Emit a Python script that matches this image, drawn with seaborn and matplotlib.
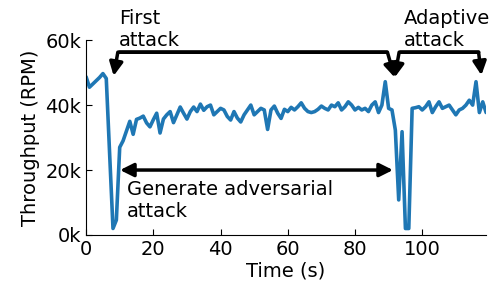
import numpy as np
import pandas as pd
import seaborn as sns
import matplotlib.pyplot as plt
from matplotlib.ticker import FuncFormatter

# throughput (k RPM), one sample per second
time_s = list(range(120))
throughput_k = [
    48.7, 45.5, 46.5, 47.5, 48.5, 49.7, 48.2, 25.0, 2.0, 4.6,
    27.0, 29.0, 32.0, 35.0, 31.0, 35.6, 36.0, 36.6, 34.5, 33.3,
    35.5, 37.5, 31.4, 35.7, 37.0, 38.0, 34.6, 37.0, 39.4, 37.5,
    35.7, 38.0, 39.4, 38.0, 40.3, 38.4, 39.5, 40.0, 37.0, 38.0,
    39.0, 38.5, 36.5, 35.4, 38.0, 36.0, 34.8, 37.0, 38.5, 40.0,
    37.0, 38.0, 39.0, 38.5, 32.5, 38.5, 39.7, 37.5, 35.9, 38.7,
    38.0, 39.3, 38.5, 39.5, 40.7, 39.0, 38.0, 37.7, 38.0, 38.7,
    39.7, 39.0, 38.5, 40.0, 39.5, 40.7, 38.5, 39.5, 41.0, 40.0,
    38.5, 39.3, 38.5, 39.0, 38.0, 40.0, 41.0, 37.7, 40.0, 47.2,
    39.0, 38.5, 32.3, 10.8, 31.8, 2.0, 2.0, 39.0, 39.2, 39.5,
    38.5, 39.5, 41.0, 37.7, 39.5, 41.0, 39.0, 39.5, 40.0, 38.5,
    37.0, 38.5, 39.0, 40.0, 41.5, 40.0, 47.2, 37.7, 41.0, 37.7,
]
yticks = [0, 20000, 40000, 60000]

df = pd.DataFrame({"time": time_s, "rpm": np.array(throughput_k) * 1000})

sns.set_style("ticks")
plt.rcParams["font.family"] = ["DejaVu Sans"]
plt.rcParams["font.size"] = 14
for key in ["text.color", "axes.labelcolor", "xtick.color", "ytick.color", "axes.edgecolor"]:
    plt.rcParams[key] = "black"

fig, ax = plt.subplots(figsize=(4.92, 2.93), dpi=100)
fig.subplots_adjust(left=0.175, right=0.988, bottom=0.198, top=0.863)

sns.lineplot(data=df, x="time", y="rpm", ax=ax, color="#1f77b4", lw=2.6)

ax.set_xlim(0, 119)
ax.set_ylim(0, 60000)
ax.set_yticks(yticks)
ax.yaxis.set_major_formatter(FuncFormatter(lambda v, p: "%dk" % (v / 1000)))
ax.tick_params(direction="in", length=4, labelsize=14)
ax.set_xlabel("Time (s)", fontsize=14, labelpad=2)
ax.set_ylabel("Throughput (RPM)", fontsize=14)
sns.despine(ax=ax)

kw = dict(arrowstyle="-|>", color="k", lw=2.5, mutation_scale=20,
          shrinkA=0, shrinkB=0)
# first attack bracket
ax.annotate("", xy=(8.2, 49000), xytext=(89.5, 56300), annotation_clip=False,
            arrowprops=dict(connectionstyle="angle,angleA=0,angleB=80,rad=0", **kw))
ax.annotate("", xy=(91.8, 48500), xytext=(9.9, 56300), annotation_clip=False,
            arrowprops=dict(connectionstyle="angle,angleA=0,angleB=106,rad=0", **kw))
# adaptive attack bracket
ax.annotate("", xy=(91.8, 48500), xytext=(116.8, 56300), annotation_clip=False,
            arrowprops=dict(connectionstyle="angle,angleA=0,angleB=80,rad=0", **kw))
ax.annotate("", xy=(117.6, 49200), xytext=(93.5, 56300), annotation_clip=False,
            arrowprops=dict(connectionstyle="angle,angleA=0,angleB=97,rad=0", **kw))
# generate adversarial span
ax.annotate("", xy=(10.1, 20000), xytext=(91.3, 20000),
            arrowprops=dict(arrowstyle="<|-|>", color="k", lw=2.5,
                            mutation_scale=20, shrinkA=0, shrinkB=0))

ax.text(9.85, 69500, "First\nattack", va="top", ha="left", fontsize=14)
ax.text(94.6, 69500, "Adaptive\nattack", va="top", ha="left", fontsize=14)
ax.text(12.1, 16800, "Generate adversarial\nattack", va="top", ha="left", fontsize=14)

plt.savefig("out.png", dpi=100)
